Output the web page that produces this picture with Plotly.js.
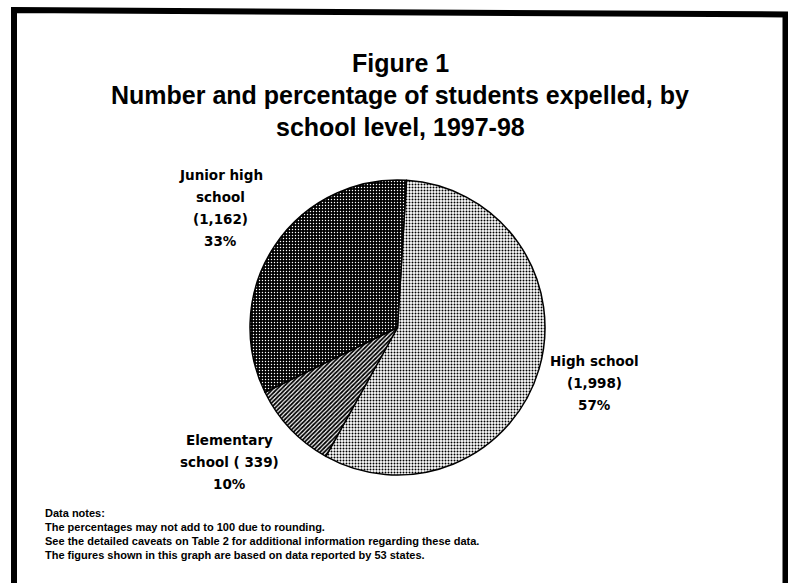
<!DOCTYPE html>
<html>
<head>
<meta charset="utf-8">
<script src="https://cdn.plot.ly/plotly-3.0.1.min.js"></script>
<style>
  html, body { margin: 0; padding: 0; background: #fff; }
  #chart { width: 788px; height: 583px; }
</style>
</head>
<body>
<div id="chart"></div>
<script>
// ---- data ----
const categories = ['High school', 'Elementary school', 'Junior high school'];
const students = [1998, 339, 1162];
// how each label is broken into lines (%N = number, %P = percent)
const labelTemplates = [
  'High school<br>(%N)<br>%P%',
  'Elementary<br>school (%N)<br>%P%',
  'Junior high<br>school<br>(%N)<br>%P%'
];
const titleLines = ['Figure 1', 'Number and percentage of students expelled, by', 'school level, 1997-98'];
const noteLines = [
  'Data notes:',
  'The percentages may not add to 100 due to rounding.',
  'See the detailed caveats on Table 2 for additional information regarding these data.',
  'The figures shown in this graph are based on data reported by 53 states.'
];

// ---- layout helpers ----
const W = 788, H = 583;
const px = x => x / W;
const py = y => 1 - y / H;

const total = students.reduce((a, b) => a + b, 0);
const fmtNum = v => {
  const s = v.toLocaleString('en-US');
  return s.length < 5 ? ' ' + s : s;
};

// label anchor: centre x and first-line centre y (pixels)
const labelAnchors = [[594, 361], [229, 440], [221, 175]];
const labelLineGap = 22;

const annotations = [];
labelTemplates.forEach((tpl, i) => {
  const pct = Math.round(students[i] / total * 100);
  const txt = tpl.replace('%N', fmtNum(students[i])).replace('%P', pct);
  txt.split('<br>').forEach((line, j) => {
    annotations.push({
      xref: 'paper', yref: 'paper',
      x: px(labelAnchors[i][0]), y: py(labelAnchors[i][1] + j * labelLineGap),
      xanchor: 'center', yanchor: 'middle',
      text: line, showarrow: false,
      font: { family: 'DejaVu Sans, Arial, sans-serif', size: 13.5, color: '#000', weight: 'bold' }
    });
  });
});

noteLines.forEach((line, j) => {
  annotations.push({
    xref: 'paper', yref: 'paper',
    x: px(43), y: py(513 + j * 14),
    xanchor: 'left', yanchor: 'middle',
    text: line, showarrow: false,
    font: { family: 'Liberation Sans, Arial, sans-serif', size: 11, color: '#000', weight: 'bold' }
  });
});

titleLines.forEach((line, j) => {
  annotations.push({
    xref: 'paper', yref: 'paper',
    x: px(400), y: py(63 + j * 32),
    xanchor: 'center', yanchor: 'middle',
    text: line, showarrow: false,
    font: { family: 'Liberation Sans, Arial, sans-serif', size: 25, color: '#000', weight: 'bold' }
  });
});

const borderPath = `M ${px(14)},${py(10)} L ${px(785.5)},${py(14.5)} L ${px(785.5)},${py(620)} L ${px(14)},${py(620)} Z`;

const trace = {
  type: 'pie',
  labels: categories,
  values: students,
  sort: false,
  direction: 'clockwise',
  rotation: 3.5,
  textinfo: 'none',
  hoverinfo: 'none',
  showlegend: false,
  domain: { x: [px(249), px(546)], y: [py(475), py(180)] },
  marker: {
    colors: ['#ffffff', '#ffffff', '#000000'],
    line: { color: '#000', width: 1.5 },
    pattern: {
      shape: ['.', '/', '.'],
      fgcolor: ['#000000', '#000000', '#ffffff'],
      bgcolor: ['#ffffff', '#ffffff', '#000000'],
      size: [3, 3, 3],
      solidity: [0.35, 0.6, 0.18]
    }
  }
};

const layout = {
  width: W, height: H,
  margin: { l: 0, r: 0, t: 0, b: 0 },
  paper_bgcolor: '#ffffff',
  plot_bgcolor: '#ffffff',
  showlegend: false,
  annotations: annotations,
  shapes: [{
    type: 'path', xref: 'paper', yref: 'paper',
    path: borderPath,
    line: { color: '#000', width: 6 },
    fillcolor: 'rgba(0,0,0,0)'
  }]
};

Plotly.newPlot('chart', [trace], layout, { staticPlot: true, displayModeBar: false });
</script>
</body>
</html>
